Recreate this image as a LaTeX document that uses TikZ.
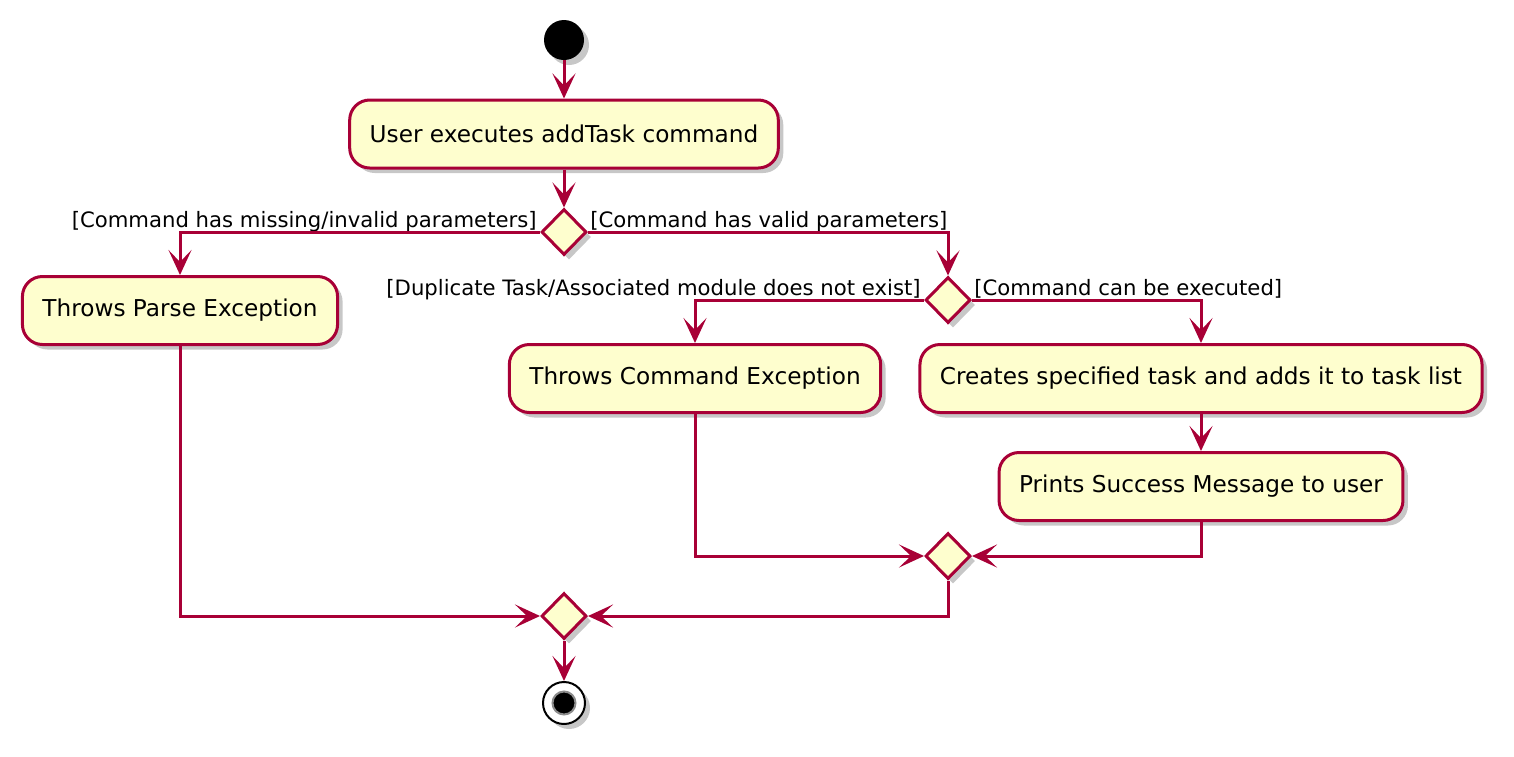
\documentclass[tikz,border=0pt]{standalone}
\usepackage{fontspec}
\setmainfont{DejaVu Sans}
\usetikzlibrary{shapes.geometric, arrows.meta, shadows}
\definecolor{umlred}{HTML}{A80036}
\definecolor{umlfill}{HTML}{FEFECE}
\tikzset{
  adshadow/.style={drop shadow={shadow xshift=2.5pt, shadow yshift=-2.5pt,
                   fill=black, opacity=0.22}},
  adaction/.style={rectangle, rounded corners=10pt, draw=umlred, fill=umlfill,
                   line width=1.5pt, minimum height=34pt, inner xsep=10pt,
                   font=\fontsize{11.6}{14}\selectfont, adshadow},
  adbranch/.style={diamond, draw=umlred, fill=umlfill, line width=1.5pt,
                   minimum width=22.5pt, minimum height=23pt, inner sep=0pt,
                   adshadow},
  adstart/.style={circle, fill=black, minimum size=20pt, inner sep=0pt,
                  adshadow},
  adstop/.style={circle, draw=black, fill=white, line width=1pt,
                 minimum size=21pt, inner sep=0pt, adshadow},
  adlink/.style={draw=umlred, line width=1.5pt,
                 -{Stealth[length=12.5pt, width=11.5pt, inset=6pt]}},
  adguard/.style={font=\fontsize{10.6}{13}\selectfont, inner sep=0pt}
}

\begin{document}
\begin{tikzpicture}[
    x=0.5pt, y=-0.5pt,
    stopdot/.style={circle, fill=black, draw=black!45, line width=1pt,
                    minimum size=11.5pt, inner sep=0pt}
]
  \useasboundingbox (0,0) rectangle (1514,756);
  \node[adstart] (start) at (564,40) {};
  \node[adaction] (act1) at (564,134) {User executes addTask command};
  \node[adbranch] (d1) at (564,232) {};
  \node[adaction] (parse) at (180,310.5) {Throws Parse Exception};
  \node[adbranch] (d2) at (948,300) {};
  \node[adaction] (cmdexc) at (695,378.5) {Throws Command Exception};
  \node[adaction] (creates) at (1201,378.5)
    {Creates specified task and adds it to task list};
  \node[adaction] (prints) at (1201,486.5) {Prints Success Message to user};
  \node[adbranch] (m1) at (948,556) {};
  \node[adbranch] (m2) at (564,616) {};
  \node[adstop] (stop) at (564,703) {};
  \node[stopdot] (stopin) at (stop) {};
  % guards
  \node[adguard, anchor=base east] (g1) at (537,227)
    {[Command has missing/invalid parameters]};
  \node[adguard, anchor=base west] (g2) at (590,227)
    {[Command has valid parameters]};
  \node[adguard, anchor=base east] (g3) at (921,295)
    {[Duplicate Task/Associated module does not exist]};
  \node[adguard, anchor=base west] (g4) at (974,295)
    {[Command can be executed]};
  % flows
  \foreach \from/\to in {start/act1, act1/d1, creates/prints, m2/stop} {
    \draw[adlink] (\from) -- (\to);
  }
  \draw[adlink] (d1.west) -| (parse);
  \draw[adlink] (d1.east) -| (d2);
  \draw[adlink] (d2.west) -| (cmdexc);
  \draw[adlink] (d2.east) -| (creates);
  \draw[adlink] (cmdexc.south) |- (m1.west);
  \draw[adlink] (prints.south) |- (m1.east);
  \draw[adlink] (parse.south) |- (m2.west);
  \draw[adlink] (m1.south) |- (m2.east);
\end{tikzpicture}
\end{document}
